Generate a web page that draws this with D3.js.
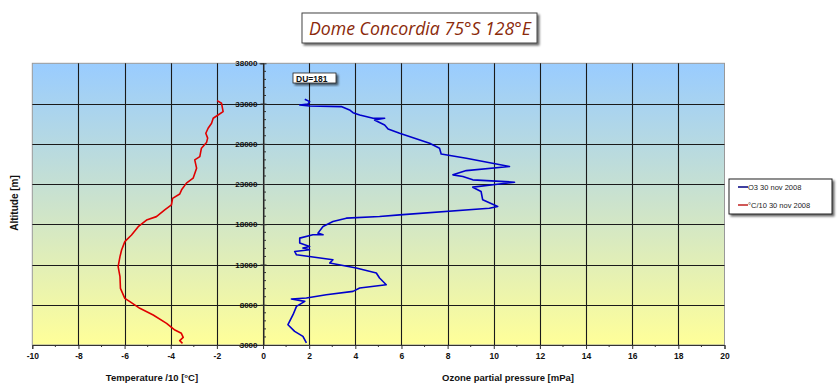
<!DOCTYPE html>
<html><head><meta charset="utf-8">
<script src="https://cdn.jsdelivr.net/npm/d3@7"></script>
<style>body{margin:0;background:#fff}svg{display:block}</style>
</head><body>
<svg id="c" width="840" height="390"></svg>
<script>
const title = "Dome Concordia 75°S 128°E";
const xTicks = [-10,-8,-6,-4,-2,0,2,4,6,8,10,12,14,16,18,20];
const yTicks = [3000,8000,13000,18000,23000,28000,33000,38000];
const duLabel = "DU=181";
const seriesNames = ["O3 30 nov 2008", "°C/10 30 nov 2008"];
// temperature /10 (x) vs altitude (m)
const tempX = [-1.99,-1.80,-1.73,-1.95,-2.16,-2.23,-2.38,-2.48,-2.40,-2.45,-2.67,-2.74,-2.96,-2.88,-3.03,-3.32,-3.53,-3.61,-3.92,-3.97,-4.26,-4.62,-5.05,-5.41,-5.70,-5.99,-6.13,-6.20,-6.28,-6.20,-6.18,-5.99,-5.77,-5.34,-4.76,-4.18,-3.82,-3.54,-3.46,-3.61,-3.49];
const tempAlt = [33360,33040,31990,31580,31170,30550,29930,29310,28700,28150,27450,26410,26000,24970,23730,23110,22280,21760,21220,20400,19780,18950,18530,17700,16670,15840,14800,13980,12730,11490,10040,8800,8380,7560,6730,5690,4860,4450,3950,3540,3210];
// ozone partial pressure (mPa) vs altitude (m)
const ozX = [1.81,2.02,1.95,1.59,2.02,3.39,3.75,3.90,4.19,4.77,5.27,4.83,5.27,5.42,5.92,7.22,7.65,7.72,8.81,10.68,8.81,8.23,8.66,9.09,10.90,9.09,9.45,9.52,10.17,9.81,5.92,5.05,3.61,3.03,2.60,2.38,2.60,2.16,1.59,1.59,2.02,1.73,2.02,1.37,1.45,3.03,2.89,4.04,4.91,5.05,5.34,4.19,3.90,2.74,1.88,1.23,1.81,1.45,1.30,1.08,1.37,1.73,1.88];
const ozAlt = [33530,33240,32950,32820,32700,32620,32200,31870,31580,31170,31170,30960,30340,29840,29310,28070,27450,26740,26210,25170,24670,24140,23930,23520,23230,22610,22070,21040,20210,20000,19170,18960,18760,18340,17720,16900,16690,16690,16280,15660,15240,15040,14830,14620,14210,13590,13180,12560,11940,11320,10490,10080,9660,9250,8840,8710,8420,7800,6760,5520,4690,4070,3250];

const svg = d3.select("#c");
const L = 32.3, R = 724.5, T = 63.3, B = 345;
const x = d3.scaleLinear().domain([-10,20]).range([L,R]);
const y = d3.scaleLinear().domain([3000,38000]).range([B,T]);

const defs = svg.append("defs");
const g = defs.append("linearGradient").attr("id","bg").attr("x1",0).attr("y1",0).attr("x2",0).attr("y2",1);
g.append("stop").attr("offset","0%").attr("stop-color","#99CCFF");
g.append("stop").attr("offset","50%").attr("stop-color","#CCE3CC");
g.append("stop").attr("offset","100%").attr("stop-color","#FFFF99");
const sh = defs.append("filter").attr("id","sh").attr("x","-10%").attr("y","-20%").attr("width","130%").attr("height","160%");
sh.append("feOffset").attr("in","SourceAlpha").attr("dx",2).attr("dy",2).attr("result","o");
sh.append("feGaussianBlur").attr("in","o").attr("stdDeviation",1).attr("result","b");
sh.append("feComponentTransfer").attr("in","b").attr("result","b2").append("feFuncA").attr("type","linear").attr("slope",0.6);
const m = sh.append("feMerge"); m.append("feMergeNode").attr("in","b2"); m.append("feMergeNode").attr("in","SourceGraphic");

svg.append("rect").attr("x",L).attr("y",T).attr("width",R-L).attr("height",B-T).attr("fill","url(#bg)").attr("stroke","#999").attr("stroke-width",1);

// gridlines
svg.append("g").selectAll("line").data(xTicks.filter(d=>d!==-10&&d!==20)).join("line")
  .attr("x1",d=>Math.round(x(d))+0.5).attr("x2",d=>Math.round(x(d))+0.5).attr("y1",T).attr("y2",B)
  .attr("stroke","#1a1a1a").attr("stroke-width",1.1);
svg.append("g").selectAll("line").data(yTicks.filter(d=>d!==3000&&d!==38000)).join("line")
  .attr("y1",d=>Math.round(y(d))+0.5).attr("y2",d=>Math.round(y(d))+0.5).attr("x1",L).attr("x2",R)
  .attr("stroke","#1a1a1a").attr("stroke-width",1.1);

const tickFont = "'Liberation Sans Narrow','Liberation Sans',Arial,sans-serif";
// x axis
const xAxis = d3.axisBottom(x).tickValues(xTicks).tickSize(4).tickPadding(4).tickFormat(d=>String(d));
const xa = svg.append("g").attr("transform",`translate(0,${B})`).call(xAxis);
xa.select(".domain").attr("stroke","#333");
xa.selectAll(".tick line").attr("stroke","#333");
xa.selectAll("text").attr("font-family",tickFont).attr("font-weight","bold").attr("font-size",8.5).attr("fill","#111");
const xMinor = d3.range(-9,20,2);
svg.append("g").selectAll("line").data(xMinor).join("line")
  .attr("x1",d=>x(d)).attr("x2",d=>x(d)).attr("y1",B).attr("y2",B+2).attr("stroke","#333");

// y axis at x=0
const yAxis = d3.axisLeft(y).tickValues(yTicks).tickSize(4).tickPadding(2).tickFormat(d=>String(d));
const ya = svg.append("g").attr("transform",`translate(${Math.round(x(0))+0.5},0)`).call(yAxis);
ya.select(".domain").attr("stroke","#333");
ya.selectAll(".tick line").attr("stroke","#333").attr("x2",-3).attr("x1",3);
ya.selectAll("text").attr("font-family",tickFont).attr("font-weight","bold").attr("font-size",8).attr("fill","#111");
const yMinor = d3.range(4000,38000,1000).filter(d=>(d-3000)%5000!==0);
svg.append("g").selectAll("line").data(yMinor).join("line")
  .attr("x1",Math.round(x(0))+0.5).attr("x2",Math.round(x(0))+3).attr("y1",d=>y(d)).attr("y2",d=>y(d)).attr("stroke","#333");

// lines
const line = d3.line().x(d=>x(d[0])).y(d=>y(d[1]));
svg.append("path").datum(tempX.map((v,i)=>[v,tempAlt[i]])).attr("d",line)
  .attr("fill","none").attr("stroke","#E00000").attr("stroke-width",1.6).attr("stroke-linejoin","round");
svg.append("path").datum(ozX.map((v,i)=>[v,ozAlt[i]])).attr("d",line)
  .attr("fill","none").attr("stroke","#0000CC").attr("stroke-width",1.6).attr("stroke-linejoin","round");

// DU box
svg.append("rect").attr("x",293).attr("y",73).attr("width",43).attr("height",10).attr("fill","#fff").attr("stroke","#222").attr("stroke-width",0.8).attr("filter","url(#sh)");
svg.append("text").attr("x",296).attr("y",81.5).text(duLabel).attr("font-family",tickFont).attr("font-weight","bold").attr("font-size",8.5).attr("fill","#111");

// title
svg.append("rect").attr("x",302).attr("y",13).attr("width",235).attr("height",30).attr("fill","#fff").attr("stroke","#444").attr("stroke-width",1).attr("filter","url(#sh)");
svg.append("text").attr("x",420).attr("y",35).attr("text-anchor","middle").text(title)
  .attr("font-family","'Open Sans','DejaVu Sans',sans-serif").attr("font-style","italic").attr("font-size",19).attr("fill","#8B2A0A").attr("textLength",222).attr("lengthAdjust","spacingAndGlyphs");

// axis titles
const labFont = "'Liberation Sans',Arial,sans-serif";
svg.append("text").attr("transform","translate(18,203) rotate(-90)").attr("text-anchor","middle").text("Altitude [m]")
  .attr("font-family",labFont).attr("font-weight","bold").attr("font-size",10).attr("fill","#111");
svg.append("text").attr("x",152).attr("y",381).attr("text-anchor","middle").text("Temperature /10 [°C]")
  .attr("font-family",labFont).attr("font-weight","bold").attr("font-size",9.5).attr("fill","#111");
svg.append("text").attr("x",508).attr("y",381).attr("text-anchor","middle").text("Ozone partial pressure [mPa]")
  .attr("font-family",labFont).attr("font-weight","bold").attr("font-size",9.5).attr("fill","#111");

// legend
svg.append("rect").attr("x",729).attr("y",179).attr("width",103).attr("height",35).attr("fill","#fff").attr("stroke","#222").attr("stroke-width",1).attr("filter","url(#sh)");
const colors = ["#000080","#C02020"];
seriesNames.forEach((n,i)=>{
  const yy = 187 + i*18;
  svg.append("line").attr("x1",738).attr("x2",748).attr("y1",yy).attr("y2",yy).attr("stroke",colors[i]).attr("stroke-width",1.5);
  svg.append("text").attr("x",748).attr("y",yy+2.5).text(n).attr("font-family",labFont).attr("font-size",7.5).attr("fill","#222");
});
</script>
</body></html>
